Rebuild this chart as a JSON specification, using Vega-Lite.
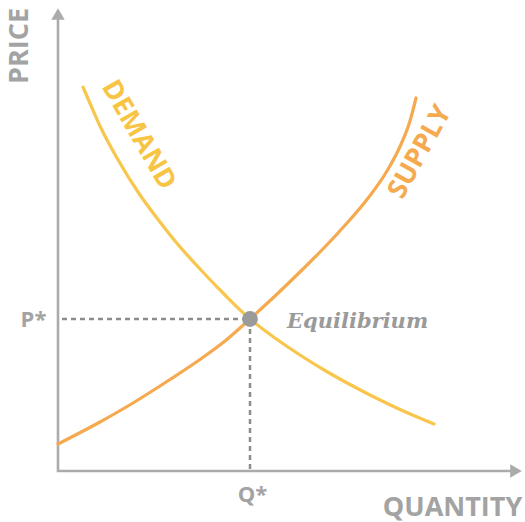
{
  "$schema": "https://vega.github.io/schema/vega-lite/v6.json",
  "width": 525,
  "height": 522,
  "autosize": {"type": "fit", "contains": "padding"},
  "padding": 0,
  "background": "white",
  "config": {"view": {"stroke": null}},
  "datasets": {
    "demand": [
      {"q": 5.0, "p": 76.8}, {"q": 6.8, "p": 72.6}, {"q": 8.4, "p": 69.0},
      {"q": 11.8, "p": 62.6}, {"q": 16.4, "p": 55.2}, {"q": 20.4, "p": 49.8},
      {"q": 23.4, "p": 46.0}, {"q": 28.4, "p": 40.4}, {"q": 33.4, "p": 35.2},
      {"q": 38.4, "p": 30.4}, {"q": 43.4, "p": 26.6}, {"q": 48.4, "p": 23.2},
      {"q": 53.4, "p": 20.1}, {"q": 58.4, "p": 17.3}, {"q": 63.4, "p": 14.7},
      {"q": 68.4, "p": 12.3}, {"q": 75.2, "p": 9.4}
    ],
    "supply": [
      {"q": 0.0, "p": 5.4}, {"q": 8.4, "p": 9.8}, {"q": 15.0, "p": 13.6},
      {"q": 22.4, "p": 18.3}, {"q": 28.4, "p": 22.3}, {"q": 33.4, "p": 26.0},
      {"q": 38.4, "p": 30.4}, {"q": 43.4, "p": 35.0}, {"q": 49.0, "p": 40.4},
      {"q": 52.4, "p": 43.8}, {"q": 57.0, "p": 48.7}, {"q": 61.8, "p": 54.3},
      {"q": 65.8, "p": 60.0}, {"q": 68.4, "p": 64.9}, {"q": 70.4, "p": 70.0},
      {"q": 71.6, "p": 74.6}
    ],
    "axes": [
      {"o": 1, "q": 0, "p": 91.2},
      {"o": 2, "q": 0, "p": 0},
      {"o": 3, "q": 91.4, "p": 0}
    ],
    "eq": [{"q": 38.4, "p": 30.4, "q0": 0.8, "p0": 0.4}]
  },
  "encoding": {
    "x": {"field": "q", "type": "quantitative", "scale": {"domain": [-11.6, 93.4], "nice": false, "zero": false}, "axis": null},
    "y": {"field": "p", "type": "quantitative", "scale": {"domain": [-10.2, 94.2], "nice": false, "zero": false}, "axis": null}
  },
  "layer": [
    {
      "data": {"name": "axes"},
      "mark": {"type": "line", "color": "#ababab", "strokeWidth": 2.6, "strokeJoin": "miter", "strokeCap": "butt"},
      "encoding": {"order": {"field": "o", "type": "quantitative"}}
    },
    {
      "data": {"values": [{"q": 0, "p": 91.4}]},
      "mark": {"type": "point", "shape": "triangle-up", "filled": true, "color": "#ababab", "size": 180, "opacity": 1}
    },
    {
      "data": {"values": [{"q": 91.6, "p": 0}]},
      "mark": {"type": "point", "shape": "triangle-right", "filled": true, "color": "#ababab", "size": 180, "opacity": 1}
    },
    {
      "data": {"name": "eq"},
      "mark": {"type": "rule", "color": "#8c8c8c", "strokeWidth": 2.5, "strokeDash": [5, 4]},
      "encoding": {"x": {"field": "q0", "type": "quantitative"}, "x2": {"field": "q"}}
    },
    {
      "data": {"name": "eq"},
      "mark": {"type": "rule", "color": "#8c8c8c", "strokeWidth": 2.5, "strokeDash": [5, 4]},
      "encoding": {"y": {"field": "p0", "type": "quantitative"}, "y2": {"field": "p"}}
    },
    {
      "data": {"name": "demand"},
      "mark": {"type": "line", "color": "#f8c64c", "strokeWidth": 3.2, "interpolate": "monotone", "strokeCap": "round"},
      "encoding": {}
    },
    {
      "data": {"name": "supply"},
      "mark": {"type": "line", "color": "#f5aa4f", "strokeWidth": 3.2, "interpolate": "monotone", "strokeCap": "round"},
      "encoding": {}
    },
    {
      "data": {"name": "eq"},
      "mark": {"type": "point", "shape": "circle", "filled": true, "color": "#9a9a9a", "size": 250, "opacity": 1}
    },
    {
      "data": {"values": [{"label": "PRICE", "q": -7.6, "p": 85.0}]},
      "mark": {"type": "text", "font": "Open Sans", "fontWeight": "bold", "fontSize": 27, "color": "#a3a3a3", "angle": 270, "align": "center", "baseline": "middle"},
      "encoding": {"text": {"field": "label"}}
    },
    {
      "data": {"values": [{"label": "QUANTITY", "q": 78.9, "p": -7.3}]},
      "mark": {"type": "text", "font": "Open Sans", "fontWeight": "bold", "fontSize": 27, "color": "#a3a3a3", "align": "center", "baseline": "middle"},
      "encoding": {"text": {"field": "label"}}
    },
    {
      "data": {"values": [{"label": "P*", "q": -4.9, "p": 28.9}]},
      "mark": {"type": "text", "font": "Open Sans", "fontWeight": "bold", "fontSize": 22, "color": "#a3a3a3", "align": "center", "baseline": "alphabetic"},
      "encoding": {"text": {"field": "label"}}
    },
    {
      "data": {"values": [{"label": "Q*", "q": 38.9, "p": -6.2}]},
      "mark": {"type": "text", "font": "Open Sans", "fontWeight": "bold", "fontSize": 22, "color": "#a3a3a3", "align": "center", "baseline": "alphabetic"},
      "encoding": {"text": {"field": "label"}}
    },
    {
      "data": {"values": [{"label": "Equilibrium", "q": 45.8, "p": 28.6}]},
      "mark": {"type": "text", "font": "DejaVu Serif", "fontWeight": "bold", "fontStyle": "italic", "fontSize": 21, "color": "#9a9a9a", "align": "left", "baseline": "alphabetic"},
      "encoding": {"text": {"field": "label"}}
    },
    {
      "data": {"values": [{"label": "DEMAND", "q": 16.1, "p": 67.2}]},
      "mark": {"type": "text", "font": "Open Sans", "fontWeight": "bold", "fontSize": 27, "color": "#f8c443", "angle": 60, "align": "center", "baseline": "middle"},
      "encoding": {"text": {"field": "label"}}
    },
    {
      "data": {"values": [{"label": "SUPPLY", "q": 72.4, "p": 63.8}]},
      "mark": {"type": "text", "font": "Open Sans", "fontWeight": "bold", "fontSize": 27, "color": "#f5aa50", "angle": 299, "align": "center", "baseline": "middle"},
      "encoding": {"text": {"field": "label"}}
    }
  ]
}
